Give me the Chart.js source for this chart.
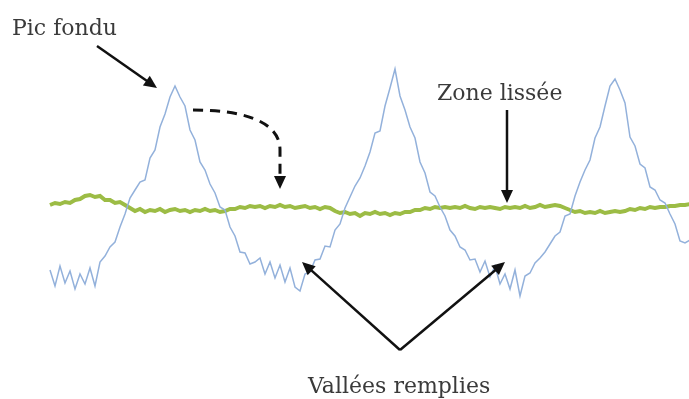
<!DOCTYPE html>
<html>
<head>
<meta charset="utf-8">
<script src="https://cdn.jsdelivr.net/npm/chart.js@4/dist/chart.umd.min.js"></script>
<style>
  html, body { margin: 0; padding: 0; background: #fff; }
  canvas { display: block; }
</style>
</head>
<body>
<canvas id="profileChart" width="689" height="399"></canvas>
<script>
// sample positions along the surface (same units as the picture width)
const positions = [
  50, 55, 60, 65, 70, 75, 80, 85, 90, 95, 100, 105, 110, 115, 120, 125, 130, 135, 140, 145,
  150, 155, 160, 165, 170, 175, 180, 185, 190, 195, 200, 205, 210, 215, 220, 225, 230, 235, 240, 245,
  250, 255, 260, 265, 270, 275, 280, 285, 290, 295, 300, 305, 310, 315, 320, 325, 330, 335, 340, 345,
  350, 355, 360, 365, 370, 375, 380, 385, 390, 395, 400, 405, 410, 415, 420, 425, 430, 435, 440, 445,
  450, 455, 460, 465, 470, 475, 480, 485, 490, 495, 500, 505, 510, 515, 520, 525, 530, 535, 540, 545,
  550, 555, 560, 565, 570, 575, 580, 585, 590, 595, 600, 605, 610, 615, 620, 625, 630, 635, 640, 645,
  650, 655, 660, 665, 670, 675, 680, 685, 690
];

// depth below the top edge (bigger = lower) for the rough profile
const roughDepth = [
  270, 286, 266, 283, 271, 289, 274, 284, 268, 286, 262, 256, 247, 242, 227, 214, 198, 190, 182, 180,
  158, 150, 127, 114, 97, 86, 97, 106, 130, 140, 162, 170, 184, 193, 207, 210, 227, 236, 252, 253,
  264, 262, 258, 274, 262, 278, 265, 282, 268, 287, 291, 274, 272, 260, 259, 246, 247, 230, 224, 208,
  197, 186, 178, 166, 152, 133, 131, 106, 88, 69, 96, 110, 127, 138, 162, 173, 192, 196, 207, 216,
  230, 236, 247, 250, 260, 259, 272, 261, 277, 266, 284, 274, 289, 270, 296, 276, 273, 263, 258, 252,
  244, 236, 232, 216, 214, 196, 182, 170, 160, 138, 127, 106, 86, 79, 90, 103, 137, 146, 164, 168,
  187, 190, 200, 203, 214, 224, 241, 243, 240
];

// depth of the smoothed profile
const smoothDepth = [
  205, 203, 204, 202, 203, 200, 199, 196, 195, 197, 196, 200, 200, 203, 202, 205, 208, 211, 209, 212,
  210, 211, 209, 212, 210, 209, 211, 210, 212, 210, 211, 209, 211, 210, 212, 211, 209, 209, 207, 208,
  206, 207, 206, 208, 206, 207, 205, 207, 206, 208, 207, 206, 208, 207, 209, 207, 208, 211, 213, 212,
  214, 213, 216, 213, 214, 212, 214, 213, 215, 213, 214, 212, 212, 210, 210, 208, 209, 207, 208, 207,
  208, 207, 208, 206, 208, 209, 207, 208, 207, 208, 209, 207, 208, 207, 208, 206, 208, 207, 205, 207,
  206, 205, 206, 208, 210, 212, 211, 213, 212, 213, 211, 213, 212, 211, 212, 211, 209, 210, 208, 209,
  207, 208, 207, 207, 206, 206, 205, 205, 204
];

const labels = [
  { text: 'Pic fondu', x: 12, y: 35 },
  { text: 'Zone lissée', x: 437, y: 100 },
  { text: 'Vallées remplies', x: 308, y: 393 }
];

const arrows = [
  { from: [97, 46], to: [157, 88] },
  { from: [507, 110], to: [507, 203] },
  { from: [400, 350], to: [302, 262] },
  { from: [400, 350], to: [505, 262] }
];

const annotate = {
  id: 'annotate',
  afterDatasetsDraw(chart) {
    const ctx = chart.ctx;
    const sx = chart.scales.x, sy = chart.scales.y;
    const px = v => sx.getPixelForValue(v);
    const py = v => sy.getPixelForValue(v);

    const head = (x0, y0, x1, y1) => {
      const a = Math.atan2(y1 - y0, x1 - x0);
      const len = 13, w = 6;
      ctx.beginPath();
      ctx.moveTo(x1, y1);
      ctx.lineTo(x1 - len * Math.cos(a) + w * Math.sin(a), y1 - len * Math.sin(a) - w * Math.cos(a));
      ctx.lineTo(x1 - len * Math.cos(a) - w * Math.sin(a), y1 - len * Math.sin(a) + w * Math.cos(a));
      ctx.closePath();
      ctx.fill();
    };

    ctx.save();
    ctx.strokeStyle = '#111';
    ctx.fillStyle = '#111';
    ctx.lineWidth = 2.5;
    arrows.forEach(ar => {
      const x0 = px(ar.from[0]), y0 = py(ar.from[1]);
      const x1 = px(ar.to[0]), y1 = py(ar.to[1]);
      const a = Math.atan2(y1 - y0, x1 - x0);
      ctx.beginPath();
      ctx.moveTo(x0, y0);
      ctx.lineTo(x1 - 10 * Math.cos(a), y1 - 10 * Math.sin(a));
      ctx.stroke();
      head(x0, y0, x1, y1);
    });

    // dashed curved arrow from the peak down to the smoothed line
    ctx.setLineDash([10, 7]);
    ctx.lineWidth = 3;
    ctx.beginPath();
    ctx.moveTo(px(193), py(110));
    ctx.bezierCurveTo(px(240), py(110), px(280), py(120), px(280), py(150));
    ctx.lineTo(px(280), py(176));
    ctx.stroke();
    ctx.setLineDash([]);
    head(px(280), py(170), px(280), py(189));

    ctx.font = '22px "DejaVu Serif"';
    ctx.fillStyle = '#3a3a3a';
    ctx.textBaseline = 'alphabetic';
    labels.forEach(l => ctx.fillText(l.text, px(l.x), py(l.y)));
    ctx.restore();
  }
};

const ctx = document.getElementById('profileChart').getContext('2d');
const profileChart = new Chart(ctx, {
  type: 'line',
  data: {
    datasets: [
      {
        label: 'rough',
        data: positions.map((x, i) => ({ x: x, y: roughDepth[i] })),
        borderColor: '#93b1db',
        borderWidth: 1.5,
        pointRadius: 0,
        tension: 0
      },
      {
        label: 'smooth',
        data: positions.map((x, i) => ({ x: x, y: smoothDepth[i] })),
        borderColor: '#9cbc45',
        borderWidth: 4,
        pointRadius: 0,
        tension: 0
      }
    ]
  },
  options: {
    responsive: false,
    animation: false,
    layout: { padding: 0 },
    plugins: { legend: { display: false }, tooltip: { enabled: false } },
    scales: {
      x: { type: 'linear', min: 0, max: 689, display: false },
      y: { min: 0, max: 399, reverse: true, display: false }
    }
  },
  plugins: [annotate]
});
</script>
</body>
</html>
